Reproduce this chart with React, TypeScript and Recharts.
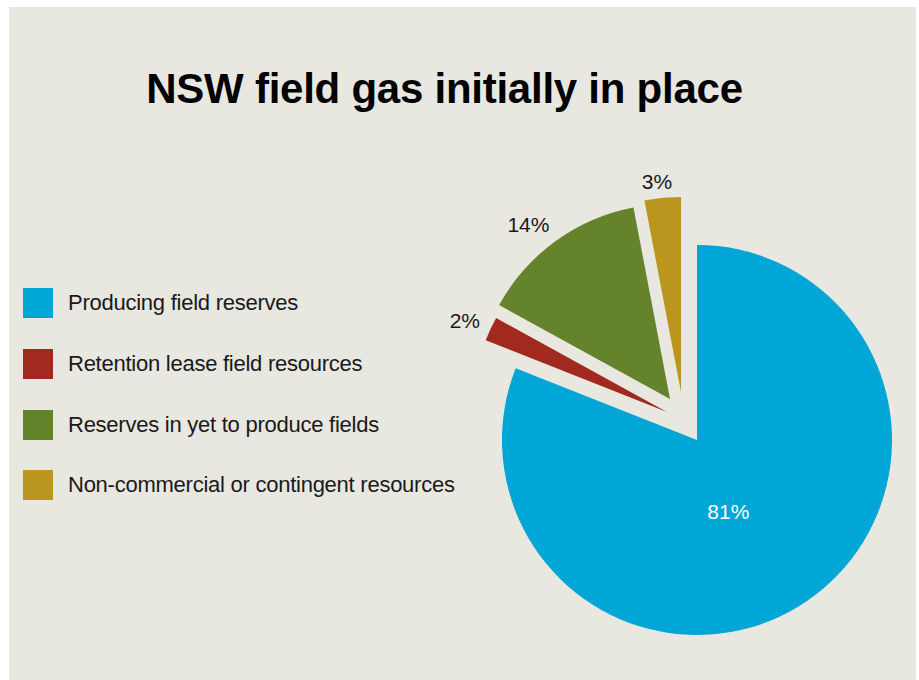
import { PieChart, Pie, Cell, Legend } from "recharts";

// Share of NSW field gas initially in place (%)
const categories = [
  "Producing field reserves",
  "Retention lease field resources",
  "Reserves in yet to produce fields",
  "Non-commercial or contingent resources",
];
const shares = [81, 2, 14, 3];

const COLORS = ["#00A6D5", "#A2291F", "#65832A", "#BA961F"];

// how far each slice is pulled out of the pie (px)
const EXPLODE = [
  { dx: 0, dy: 0 },
  { dx: -30, dy: -28 },
  { dx: -27, dy: -41 },
  { dx: -16, dy: -48 },
];
const LABEL_RADIUS = [78, 222, 225, 212];
const LABEL_ANGLE_SHIFT = [-10.5, 0.8, 3, 1.1];

const data = categories.map((name, i) => ({ name, value: shares[i] }));

const FONT = "'Liberation Sans', Arial, Helvetica, sans-serif";
const RADIAN = Math.PI / 180;

const makeLabel = (slice: number) => (props: any) => {
  const { cx, cy, midAngle, index, value } = props;
  if (index !== slice) return null;
  const a = (midAngle + LABEL_ANGLE_SHIFT[slice]) * RADIAN;
  const r = LABEL_RADIUS[slice];
  return (
    <text
      x={cx + r * Math.cos(a)}
      y={cy - r * Math.sin(a)}
      textAnchor="middle"
      dominantBaseline="central"
      fill={slice === 0 ? "#ffffff" : "#1a1a1a"}
      style={{ fontSize: 21, fontFamily: FONT }}
    >
      {`${value}%`}
    </text>
  );
};

const renderLegend = () => (
  <div style={{ fontFamily: FONT }}>
    {categories.map((name, i) => (
      <div
        key={name}
        style={{
          display: "flex",
          alignItems: "center",
          height: 30,
          marginBottom: 30.8,
        }}
      >
        <div style={{ width: 30, height: 30, background: COLORS[i], flex: "none" }} />
        <span
          style={{
            marginLeft: 15,
            fontSize: 22,
            letterSpacing: -0.25,
            color: "#1a1a1a",
            whiteSpace: "nowrap",
          }}
        >
          {name}
        </span>
      </div>
    ))}
  </div>
);

const CX = 697;
const CY = 440;

export default function App() {
  return (
    <div style={{ position: "absolute", left: 0, top: 0, width: 919, height: 680 }}>
      <div
        style={{
          position: "absolute",
          left: 9,
          top: 7,
          width: 907,
          height: 673,
          background: "#E8E7E0",
        }}
      />
      <div
        style={{
          position: "absolute",
          left: 0,
          top: 68,
          width: 889,
          textAlign: "center",
          fontFamily: FONT,
          fontWeight: "bold",
          fontSize: 42,
          lineHeight: "42px",
          letterSpacing: -0.25,
          color: "#000",
        }}
      >
        NSW field gas initially in place
      </div>
      <div style={{ position: "absolute", left: 0, top: 0 }}>
        <PieChart width={919} height={680} margin={{ top: 0, right: 0, bottom: 0, left: 0 }}>
          {EXPLODE.map((off, s) => (
            <Pie
              key={`pie-${s}`}
              data={data}
              dataKey="value"
              nameKey="name"
              cx={CX + off.dx}
              cy={CY + off.dy}
              outerRadius={195}
              startAngle={90}
              endAngle={-270}
              stroke="none"
              labelLine={false}
              label={makeLabel(s)}
              isAnimationActive={false}
            >
              {data.map((entry, i) => (
                <Cell key={`cell-${s}-${i}`} fill={i === s ? COLORS[i] : "transparent"} />
              ))}
            </Pie>
          ))}
          <Legend
            content={renderLegend}
            wrapperStyle={{ left: 23, top: 288, width: 440, height: 240 }}
          />
        </PieChart>
      </div>
    </div>
  );
}
